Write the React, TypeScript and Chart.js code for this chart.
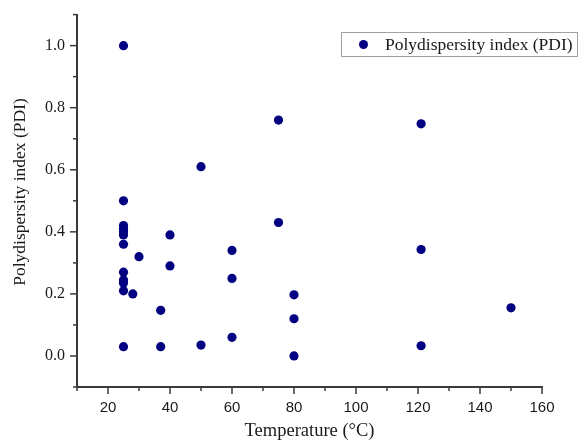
import React, { useEffect, useRef } from "react";
import { Chart, registerables } from "chart.js";

Chart.register(...registerables);

const seriesLabel = "Polydispersity index (PDI)";
const xTitle = "Temperature (°C)";
const yTitle = "Polydispersity index (PDI)";

const temperatures = [
  25, 25, 25, 25, 25, 25, 25, 25, 25, 25, 25, 25,
  28, 30, 37, 37, 40, 40, 50, 50, 60, 60, 60,
  75, 75, 80, 80, 80, 121, 121, 121, 150,
];
const pdiValues = [
  1.0, 0.5, 0.42, 0.41, 0.4, 0.39, 0.36, 0.27, 0.245, 0.235, 0.21, 0.03,
  0.2, 0.32, 0.147, 0.03, 0.39, 0.29, 0.61, 0.035, 0.34, 0.25, 0.06,
  0.76, 0.43, 0.197, 0.12, 0.0, 0.748, 0.343, 0.033, 0.155,
];

const xMin = 10;
const xMax = 160;
const xStep = 10;
const yMin = -0.1;
const yMax = 1.1;
const yStep = 0.1;

const pointColor = "#000080";
const axisColor = "#3a3a3a";
const textColor = "#1a1a1a";

const isMajorX = (v: number) => Math.round(v) % 20 === 0 && v >= 20;
const isMajorY = (v: number) => {
  const k = Math.round(v * 10);
  return k % 2 === 0 && k >= 0 && k <= 10;
};

const tickMarksPlugin = {
  id: "tickMarks",
  afterDraw(chart: any) {
    const { ctx, chartArea, scales } = chart;
    ctx.save();
    ctx.strokeStyle = axisColor;
    ctx.lineWidth = 1.5;
    const xs = scales.x;
    xs.ticks.forEach((t: any) => {
      const px = xs.getPixelForValue(t.value);
      const len = isMajorX(t.value) ? 7 : 4;
      ctx.beginPath();
      ctx.moveTo(px, chartArea.bottom);
      ctx.lineTo(px, chartArea.bottom + len);
      ctx.stroke();
    });
    const ys = scales.y;
    ys.ticks.forEach((t: any) => {
      const py = ys.getPixelForValue(t.value);
      const len = isMajorY(t.value) ? 7 : 4;
      ctx.beginPath();
      ctx.moveTo(chartArea.left, py);
      ctx.lineTo(chartArea.left - len, py);
      ctx.stroke();
    });
    // y-axis title
    ctx.fillStyle = textColor;
    ctx.font = '17.5px "Liberation Serif"';
    ctx.textAlign = "center";
    ctx.textBaseline = "middle";
    ctx.translate(20, 192);
    ctx.rotate(-Math.PI / 2);
    ctx.fillText(yTitle, 0, 0);
    ctx.restore();

    // legend box
    const ds = chart.data.datasets[0];
    ctx.save();
    ctx.fillStyle = "#ffffff";
    ctx.strokeStyle = "#a0a0a0";
    ctx.lineWidth = 1;
    ctx.fillRect(341.5, 32.5, 236, 24);
    ctx.strokeRect(341.5, 32.5, 236, 24);
    ctx.fillStyle = ds.backgroundColor;
    ctx.beginPath();
    ctx.arc(363.5, 44.5, 4.5, 0, Math.PI * 2);
    ctx.fill();
    ctx.fillStyle = textColor;
    ctx.font = '17.5px "Liberation Serif"';
    ctx.textAlign = "left";
    ctx.textBaseline = "middle";
    ctx.fillText(ds.label, 385, 45);
    ctx.restore();
  },
};

export default function App() {
  const canvasRef = useRef<HTMLCanvasElement | null>(null);

  useEffect(() => {
    if (!canvasRef.current) return;
    const chart = new Chart(canvasRef.current, {
      type: "scatter",
      data: {
        datasets: [
          {
            label: seriesLabel,
            data: temperatures.map((t, i) => ({ x: t, y: pdiValues[i] })),
            backgroundColor: pointColor,
            borderColor: pointColor,
            pointRadius: 4.6,
            pointHoverRadius: 4.6,
            borderWidth: 0,
          },
        ],
      },
      options: {
        responsive: false,
        animation: false,
        events: [],
        layout: { padding: { top: 13, right: 37, left: 0, bottom: 0 } },
        plugins: {
          legend: { display: false },
          tooltip: { enabled: false },
        },
        scales: {
          x: {
            type: "linear",
            min: xMin,
            max: xMax,
            afterFit: (s: any) => {
              s.height = 57;
            },
            border: { display: true, color: axisColor, width: 2 },
            grid: {
              display: true,
              drawOnChartArea: false,
              drawTicks: true,
              tickLength: 7,
              tickColor: "rgba(0,0,0,0)",
            },
            ticks: {
              stepSize: xStep,
              autoSkip: false,
              maxRotation: 0,
              padding: 5,
              color: textColor,
              font: { family: "Liberation Sans", size: 15 },
              callback: (v: any) => (isMajorX(Number(v)) ? String(v) : ""),
            },
            title: {
              display: true,
              text: xTitle,
              color: textColor,
              font: { family: "Liberation Serif", size: 18.5 },
              padding: { top: 0, bottom: 2 },
            },
          },
          y: {
            type: "linear",
            min: yMin,
            max: yMax,
            afterFit: (s: any) => {
              s.width = 77;
            },
            border: { display: true, color: axisColor, width: 2 },
            grid: {
              display: true,
              drawOnChartArea: false,
              drawTicks: true,
              tickLength: 7,
              tickColor: "rgba(0,0,0,0)",
            },
            ticks: {
              stepSize: yStep,
              autoSkip: false,
              padding: 5,
              color: textColor,
              font: { family: "Liberation Serif", size: 16 },
              callback: (v: any) =>
                isMajorY(Number(v)) ? Number(v).toFixed(1) : "",
            },
          },
        },
      },
      plugins: [tickMarksPlugin],
    });
    return () => chart.destroy();
  }, []);

  return (
    <div
      style={{
        position: "absolute",
        left: 0,
        top: 0,
        width: 579,
        height: 444,
        background: "#ffffff",
      }}
    >
      <canvas ref={canvasRef} width={579} height={444} />
    </div>
  );
}
